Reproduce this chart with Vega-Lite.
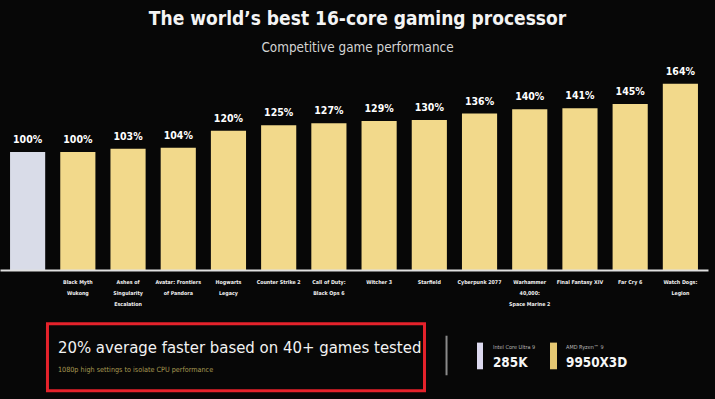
{
  "$schema": "https://vega.github.io/schema/vega-lite/v6.json",
  "background": "#070707",
  "padding": {"top": 9, "left": 0, "right": 0, "bottom": 0},
  "spacing": 0,
  "config": {
    "view": {"stroke": null},
    "font": "DejaVu Sans Condensed, sans-serif",
    "concat": {"spacing": 0}
  },
  "title": {
    "text": "The world’s best 16-core gaming processor",
    "subtitle": "Competitive game performance",
    "anchor": "middle",
    "font": "DejaVu Sans Condensed, sans-serif",
    "fontSize": 19,
    "fontWeight": "bold",
    "color": "#f4f4f4",
    "subtitleFont": "DejaVu Sans Condensed, sans-serif",
    "subtitleFontSize": 13.4,
    "subtitleColor": "#d4d4d4",
    "subtitlePadding": 12,
    "offset": 12.5
  },
  "vconcat": [
    {
      "width": 708,
      "height": 200,
      "data": {
        "values": [
          {"game": "", "processor": "Intel Core Ultra 9 285K", "performance": 1.00},
          {"game": "Black Myth\nWukong", "processor": "AMD Ryzen 9 9950X3D", "performance": 1.00},
          {"game": "Ashes of\nSingularity\nEscalation", "processor": "AMD Ryzen 9 9950X3D", "performance": 1.03},
          {"game": "Avatar: Frontiers\nof Pandora", "processor": "AMD Ryzen 9 9950X3D", "performance": 1.04},
          {"game": "Hogwarts\nLegacy", "processor": "AMD Ryzen 9 9950X3D", "performance": 1.20},
          {"game": "Counter Strike 2", "processor": "AMD Ryzen 9 9950X3D", "performance": 1.25},
          {"game": "Call of Duty:\nBlack Ops 6", "processor": "AMD Ryzen 9 9950X3D", "performance": 1.27},
          {"game": "Witcher 3", "processor": "AMD Ryzen 9 9950X3D", "performance": 1.29},
          {"game": "Starfield", "processor": "AMD Ryzen 9 9950X3D", "performance": 1.30},
          {"game": "Cyberpunk 2077", "processor": "AMD Ryzen 9 9950X3D", "performance": 1.36},
          {"game": "Warhammer\n40,000:\nSpace Marine 2", "processor": "AMD Ryzen 9 9950X3D", "performance": 1.40},
          {"game": "Final Fantasy XIV", "processor": "AMD Ryzen 9 9950X3D", "performance": 1.41},
          {"game": "Far Cry 6", "processor": "AMD Ryzen 9 9950X3D", "performance": 1.45},
          {"game": "Watch Dogs:\nLegion", "processor": "AMD Ryzen 9 9950X3D", "performance": 1.64}
        ]
      },
      "encoding": {
        "x": {
          "field": "game",
          "type": "nominal",
          "sort": null,
          "scale": {"paddingInner": 0.3, "paddingOuter": 0.2},
          "axis": {
            "title": null,
            "labelAngle": 0,
            "ticks": false,
            "domainColor": "#e0e0e0",
            "domainWidth": 2,
            "labelColor": "#f0f0f0",
            "labelFont": "DejaVu Sans Condensed, sans-serif",
            "labelFontWeight": "bold",
            "labelFontSize": 5.3,
            "labelLineHeight": 11,
            "labelPadding": 9,
            "labelBaseline": "top",
            "labelLimit": 0,
            "labelOverlap": false,
            "labelExpr": "split(datum.label, '\\n')",
            "zindex": 1
          }
        },
        "y": {
          "field": "performance",
          "type": "quantitative",
          "scale": {"domain": [-0.11, 1.77]},
          "axis": null
        }
      },
      "layer": [
        {
          "mark": {"type": "bar"},
          "encoding": {
            "y2": {"datum": -0.11},
            "color": {
              "field": "processor",
              "type": "nominal",
              "scale": {"domain": ["Intel Core Ultra 9 285K", "AMD Ryzen 9 9950X3D"], "range": ["#d9dce8", "#f2d98b"]},
              "legend": null
            }
          }
        },
        {
          "mark": {"type": "text", "baseline": "bottom", "dy": -7, "fontSize": 10.5, "fontWeight": "bold", "color": "#ffffff"},
          "encoding": {
            "text": {"field": "performance", "type": "quantitative", "format": ".0%"}
          }
        }
      ]
    },
    {
      "width": 715,
      "height": 92,
      "data": {"values": [{}]},
      "layer": [
        {
          "mark": {"type": "rect", "fill": null, "stroke": "#e5222b", "strokeWidth": 3},
          "encoding": {
            "x": {"datum": 6.64, "type": "quantitative", "scale": {"domain": [0, 100]}, "axis": null},
            "x2": {"datum": 59.37},
            "y": {"datum": 18.2, "type": "quantitative", "scale": {"domain": [0, 100], "reverse": true}, "axis": null},
            "y2": {"datum": 91.0}
          }
        },
        {
          "mark": {"type": "text", "text": "20% average faster based on 40+ games tested", "align": "left", "baseline": "alphabetic", "fontSize": 16.6, "color": "#f2f2f2"},
          "encoding": {
            "x": {"datum": 8.1, "type": "quantitative"},
            "y": {"datum": 49.5, "type": "quantitative"}
          }
        },
        {
          "mark": {"type": "text", "text": "1080p high settings to isolate CPU performance", "align": "left", "baseline": "alphabetic", "fontSize": 7.2, "color": "#a89a52"},
          "encoding": {
            "x": {"datum": 8.1, "type": "quantitative"},
            "y": {"datum": 71, "type": "quantitative"}
          }
        },
        {
          "mark": {"type": "rule", "stroke": "#8a8a8a", "strokeWidth": 2},
          "encoding": {
            "x": {"datum": 62.45, "type": "quantitative"},
            "y": {"datum": 31.2, "type": "quantitative"},
            "y2": {"datum": 74.2}
          }
        },
        {
          "mark": {"type": "rect", "fill": "#dcd9ef"},
          "encoding": {
            "x": {"datum": 66.71, "type": "quantitative"},
            "x2": {"datum": 67.55},
            "y": {"datum": 38.7, "type": "quantitative"},
            "y2": {"datum": 67.7}
          }
        },
        {
          "mark": {"type": "rect", "fill": "#e6c872"},
          "encoding": {
            "x": {"datum": 76.92, "type": "quantitative"},
            "x2": {"datum": 77.9},
            "y": {"datum": 38.7, "type": "quantitative"},
            "y2": {"datum": 67.7}
          }
        },
        {
          "mark": {"type": "text", "text": "Intel Core Ultra 9", "align": "left", "baseline": "alphabetic", "fontSize": 5.5, "color": "#b8b8b8"},
          "encoding": {
            "x": {"datum": 68.95, "type": "quantitative"},
            "y": {"datum": 45.2, "type": "quantitative"}
          }
        },
        {
          "mark": {"type": "text", "text": "285K", "align": "left", "baseline": "alphabetic", "fontSize": 13.4, "fontWeight": "bold", "color": "#f6f6f6"},
          "encoding": {
            "x": {"datum": 68.95, "type": "quantitative"},
            "y": {"datum": 65.6, "type": "quantitative"}
          }
        },
        {
          "mark": {"type": "text", "text": "AMD Ryzen™ 9", "align": "left", "baseline": "alphabetic", "fontSize": 5.5, "color": "#b8b8b8"},
          "encoding": {
            "x": {"datum": 79.16, "type": "quantitative"},
            "y": {"datum": 45.2, "type": "quantitative"}
          }
        },
        {
          "mark": {"type": "text", "text": "9950X3D", "align": "left", "baseline": "alphabetic", "fontSize": 13.4, "fontWeight": "bold", "color": "#f6f6f6"},
          "encoding": {
            "x": {"datum": 79.16, "type": "quantitative"},
            "y": {"datum": 65.6, "type": "quantitative"}
          }
        }
      ]
    }
  ]
}
